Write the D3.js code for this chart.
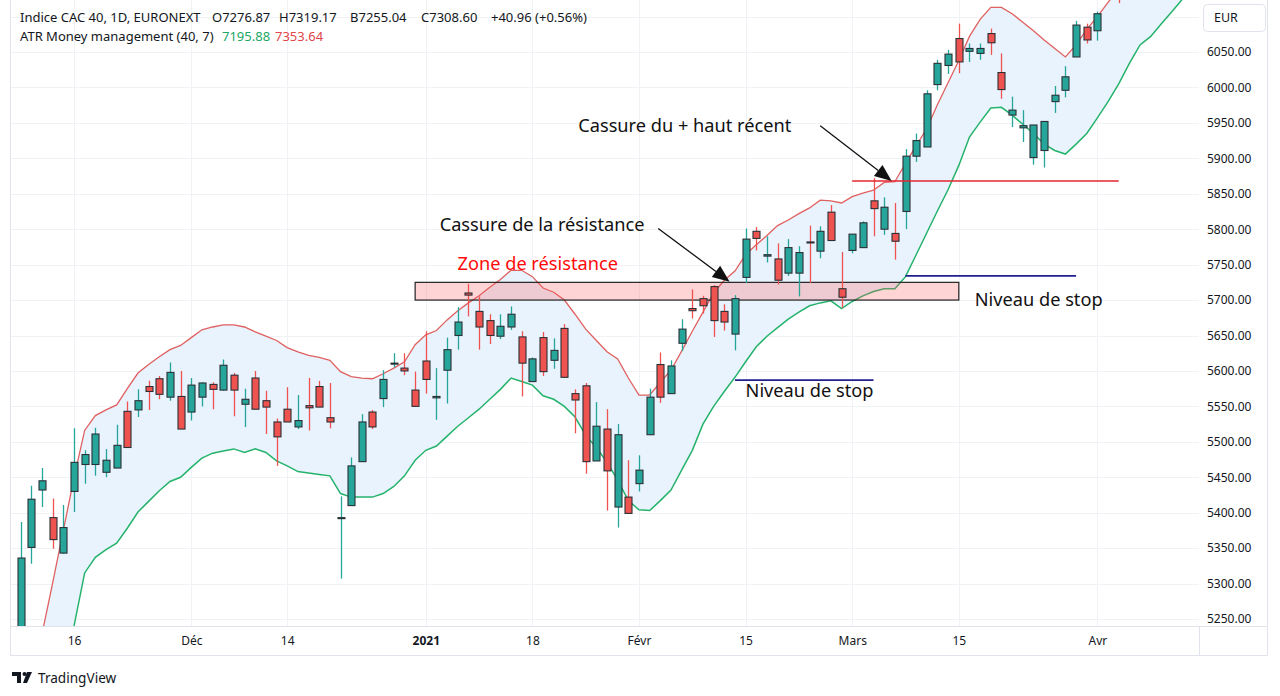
<!DOCTYPE html>
<html><head><meta charset="utf-8">
<script src="https://cdn.jsdelivr.net/npm/d3@7"></script>
<style>
html,body{margin:0;padding:0;background:#fff;}
svg{display:block;}
text{font-family:"Noto Sans","Open Sans",sans-serif;}
</style></head><body>
<svg id="c" width="1280" height="696"></svg>
<script>
// ---------- DATA ----------
const dates = [
 "2020-11-09","2020-11-10","2020-11-11","2020-11-12","2020-11-13","2020-11-16","2020-11-17","2020-11-18","2020-11-19","2020-11-20",
 "2020-11-23","2020-11-24","2020-11-25","2020-11-26","2020-11-27","2020-11-30","2020-12-01","2020-12-02","2020-12-03","2020-12-04",
 "2020-12-07","2020-12-08","2020-12-09","2020-12-10","2020-12-11","2020-12-14","2020-12-15","2020-12-16","2020-12-17","2020-12-18",
 "2020-12-21","2020-12-22","2020-12-23","2020-12-24","2020-12-28","2020-12-29","2020-12-30","2020-12-31","2021-01-04","2021-01-05",
 "2021-01-06","2021-01-07","2021-01-08","2021-01-11","2021-01-12","2021-01-13","2021-01-14","2021-01-15","2021-01-18","2021-01-19",
 "2021-01-20","2021-01-21","2021-01-22","2021-01-25","2021-01-26","2021-01-27","2021-01-28","2021-01-29","2021-02-01","2021-02-02",
 "2021-02-03","2021-02-04","2021-02-05","2021-02-08","2021-02-09","2021-02-10","2021-02-11","2021-02-12","2021-02-15","2021-02-16",
 "2021-02-17","2021-02-18","2021-02-19","2021-02-22","2021-02-23","2021-02-24","2021-02-25","2021-02-26","2021-03-01","2021-03-02",
 "2021-03-03","2021-03-04","2021-03-05","2021-03-08","2021-03-09","2021-03-10","2021-03-11","2021-03-12","2021-03-15","2021-03-16",
 "2021-03-17","2021-03-18","2021-03-19","2021-03-22","2021-03-23","2021-03-24","2021-03-25","2021-03-26","2021-03-29","2021-03-30",
 "2021-03-31","2021-04-01","2021-04-06","2021-04-07"];
const opens = [
 5180,5351,5432,5393,5343,5430,5468,5468,5457,5463,
 5543,5545,5578,5589,5563,5564,5542,5563,5581,5573,
 5594,5553,5590,5558,5528,5546,5521,5551,5578,5534,
 5392,5410,5472,5542,5561,5610,5604,5573,5614,5562,
 5601,5650,5710,5684,5671,5649,5662,5648,5585,5647,
 5615,5660,5568,5579,5473,5518,5408,5422,5441,5510,
 5609,5568,5639,5688,5702,5719,5684,5652,5732,5797,
 5762,5758,5738,5738,5782,5769,5824,5716,5770,5774,
 5840,5800,5794,5825,5903,5916,6004,6031,6069,6051,
 6048,6076,6021,5961,5943,5901,5911,5980,5996,6043,
 6085,6080,6130,6150];
const highs = [
 5387,5438,5463,5420,5411,5519,5488,5520,5490,5524,
 5557,5574,5586,5593,5612,5600,5590,5584,5584,5616,
 5597,5575,5600,5572,5533,5577,5566,5590,5586,5583,
 5423,5478,5539,5545,5601,5625,5625,5599,5656,5604,
 5647,5690,5723,5705,5680,5680,5691,5656,5619,5655,
 5646,5666,5574,5583,5556,5546,5525,5474,5481,5575,
 5626,5615,5673,5715,5706,5721,5694,5707,5801,5803,
 5790,5780,5786,5776,5805,5804,5834,5768,5793,5811,
 5872,5845,5837,5913,5935,5996,6039,6053,6090,6062,
 6062,6083,6048,5987,5968,5947,5952,6002,6030,6094,
 6090,6107,6145,6160];
const lows = [
 5150,5328,5408,5349,5342,5401,5441,5452,5450,5463,
 5492,5535,5545,5560,5558,5518,5530,5550,5546,5572,
 5536,5521,5546,5511,5466,5528,5518,5516,5549,5519,
 5307,5410,5472,5518,5549,5605,5594,5550,5568,5531,
 5554,5630,5677,5630,5638,5645,5658,5564,5585,5593,
 5603,5591,5512,5455,5473,5403,5379,5399,5430,5510,
 5555,5568,5628,5674,5681,5648,5657,5629,5724,5770,
 5753,5722,5734,5705,5724,5759,5784,5689,5766,5774,
 5790,5792,5757,5800,5895,5916,5996,6019,6020,6036,
 6039,6046,5984,5944,5923,5891,5887,5964,5986,6043,
 6062,6066,6126,6119];
const closes = [
 5336,5419,5445,5362,5379,5471,5482,5511,5474,5495,
 5492,5558,5571,5567,5598,5518,5580,5583,5574,5608,
 5573,5560,5546,5549,5507,5528,5530,5548,5549,5528,
 5393,5466,5528,5521,5588,5611,5600,5550,5588,5564,
 5630,5669,5707,5662,5650,5663,5680,5611,5617,5599,
 5629,5591,5559,5472,5522,5459,5510,5399,5460,5563,
 5563,5607,5659,5685,5692,5671,5669,5702,5786,5787,
 5764,5728,5774,5767,5781,5797,5784,5704,5793,5809,
 5829,5831,5783,5903,5925,5991,6034,6047,6036,6055,
 6055,6063,5997,5968,5946,5947,5952,5989,6015,6088,
 6067,6104,6140,6135];
// ATR Money management (40, 7) bands, plotted ahead of price
const upperBand = [
 null,null,5229,5301,5375,5449,5516,5537,5545,5552,
 5575,5597,5609,5620,5630,5636,5647,5658,5662,5665,
 5665,5662,5655,5649,5643,5633,5627,5622,5619,5615,
 5599,5592,5590,5589,5596,5604,5613,5637,5651,5657,
 5672,5685,5696,5706,5718,5729,5742,5742,5733,5717,
 5711,5700,5680,5659,5643,5627,5617,5590,5566,5566,
 5584,5601,5628,5656,5683,5710,5728,5741,5764,5778,
 5791,5805,5813,5822,5830,5841,5840,5837,5846,5851,
 5855,5866,5867,5893,5918,5942,5976,6007,6038,6072,
 6096,6113,6113,6104,6092,6080,6067,6055,6043,6060,
 6082,6100,6120,6140,6160,6180,6200,6220,6240,6260];
const lowerBand = [
 null,null,null,null,null,5240,5315,5337,5348,5357,
 5378,5401,5416,5431,5444,5450,5464,5477,5484,5487,
 5490,5485,5490,5485,5473,5466,5458,5456,5454,5452,
 5427,5422,5422,5422,5427,5437,5452,5474,5488,5494,
 5508,5522,5534,5546,5560,5574,5590,5585,5580,5565,
 5560,5550,5535,5509,5492,5471,5446,5417,5404,5403,
 5417,5432,5460,5488,5525,5550,5571,5591,5613,5634,
 5649,5661,5673,5683,5692,5696,5699,5688,5698,5706,
 5712,5716,5716,5733,5764,5795,5826,5856,5890,5930,
 5951,5971,5972,5961,5948,5935,5920,5911,5906,5920,
 5935,5957,5980,6005,6034,6060,6072,6090,6107,6125];

const priceTicks = [5250,5300,5350,5400,5450,5500,5550,5600,5650,5700,5750,5800,5850,5900,5950,6000,6050];
const gridPrices = [5250,5300,5350,5400,5450,5500,5550,5600,5650,5700,5750,5800,5850,5900,5950,6000,6050,6100];
const timeTickIndex = [5,16,25,38,48,58,68,78,88,101];
const timeTickLabels = ["16","Déc","14","2021","18","Févr","15","Mars","15","Avr"];

const resistanceZone = [5700, 5725];      // price range
const resistanceZoneBars = [37, 88];      // bar span
const recentHigh = 5868; const recentHighBars = [78, 103];
const stopLevels = [5734, 5587];
const stopBars = [[83, 99], [67, 80]];

// ---------- CHART ----------
const svg = d3.select("#c");
const plot = {left:10, right:1199, top:0, bottom:626};
const x = d3.scaleLinear().domain([0, 101]).range([20.7, 1097.4]);
const y = d3.scaleLinear().domain([5250, 6050]).range([619, 52]);

const cGreen = "#26a69a", cRed = "#ef5350", cBorder = "#2b3036";
const upperColor = "#e06060", lowerColor = "#25b36c";

svg.append("defs").append("clipPath").attr("id","clip")
  .append("rect").attr("x",plot.left+0.5).attr("y",plot.top).attr("width",plot.right-plot.left-0.5).attr("height",plot.bottom-plot.top);

// grid
const grid = svg.append("g");
grid.selectAll("line.h").data(gridPrices).join("line")
  .attr("x1",plot.left).attr("x2",plot.right)
  .attr("y1",d=>Math.round(y(d))+0.5).attr("y2",d=>Math.round(y(d))+0.5)
  .attr("stroke","#f0f2f6").attr("stroke-width",1);
grid.selectAll("line.v").data(timeTickIndex).join("line")
  .attr("y1",plot.top).attr("y2",plot.bottom)
  .attr("x1",d=>Math.round(x(d))+0.5).attr("x2",d=>Math.round(x(d))+0.5)
  .attr("stroke","#f0f2f6").attr("stroke-width",1);

const g = svg.append("g").attr("clip-path","url(#clip)");
const idx = d3.range(upperBand.length);

// band fill
g.append("path").datum(idx)
  .attr("d", d3.area().defined(i=>upperBand[i]!=null)
     .x(i=>x(i)).y1(i=>y(upperBand[i]))
     .y0(i=>lowerBand[i]!=null ? y(lowerBand[i]) : plot.bottom+20))
  .attr("fill","#e8f3fd");
g.append("path").datum(idx)
  .attr("d", d3.line().defined(i=>upperBand[i]!=null).x(i=>x(i)).y(i=>y(upperBand[i])))
  .attr("fill","none").attr("stroke",upperColor).attr("stroke-width",1.3);
g.append("path").datum(idx)
  .attr("d", d3.line().defined(i=>lowerBand[i]!=null).x(i=>x(i)).y(i=>y(lowerBand[i])))
  .attr("fill","none").attr("stroke",lowerColor).attr("stroke-width",1.5);

// resistance zone
g.append("rect")
  .attr("x", x(resistanceZoneBars[0])).attr("width", x(resistanceZoneBars[1])-x(resistanceZoneBars[0]))
  .attr("y", y(resistanceZone[1])).attr("height", y(resistanceZone[0])-y(resistanceZone[1]))
  .attr("fill","rgba(255,90,90,0.26)").attr("stroke","#222").attr("stroke-width",1.2);

// candles
const bars = d3.range(opens.length);
const cg = g.append("g");
bars.forEach(i=>{
  const o=opens[i], c=closes[i], up = c>=o;
  const col = up?cGreen:cRed;
  const cx = Math.round(x(i))+0.5;
  cg.append("line").attr("x1",cx).attr("x2",cx).attr("y1",y(highs[i])).attr("y2",y(lows[i]))
    .attr("stroke",col).attr("stroke-width",1.3);
  const yt = y(Math.max(o,c)), yb = y(Math.min(o,c));
  cg.append("rect").attr("x",cx-3.5).attr("width",7)
    .attr("y",yt).attr("height",Math.max(1,yb-yt))
    .attr("fill",col).attr("stroke",cBorder).attr("stroke-width",1.1);
});

// horizontal levels
g.append("line").attr("x1",x(recentHighBars[0])).attr("x2",x(recentHighBars[1]))
  .attr("y1",y(recentHigh)).attr("y2",y(recentHigh)).attr("stroke","#e3262e").attr("stroke-width",1.6);
stopLevels.forEach((v,k)=>{
  g.append("line").attr("x1",x(stopBars[k][0])).attr("x2",x(stopBars[k][1]))
   .attr("y1",y(v)).attr("y2",y(v)).attr("stroke","#1f1f8f").attr("stroke-width",1.8);
});

// arrows (bar index, price)
const arrows = [
  {from:[59.8, 5801], to:[66.5, 5726]},
  {from:[75.0, 5946], to:[81.7, 5868]}
];
arrows.forEach(a=>{
  const x1=x(a.from[0]), y1=y(a.from[1]), x2=x(a.to[0]), y2=y(a.to[1]);
  const ang = Math.atan2(y2-y1, x2-x1), L=17, Wd=7;
  const bx = x2-L*Math.cos(ang), by = y2-L*Math.sin(ang);
  g.append("line").attr("x1",x1).attr("y1",y1).attr("x2",bx).attr("y2",by).attr("stroke","#111").attr("stroke-width",1.3);
  const px = -Math.sin(ang)*Wd, py = Math.cos(ang)*Wd;
  g.append("path").attr("d",`M${x2},${y2}L${bx+px},${by+py}L${bx-px},${by-py}Z`).attr("fill","#111");
});

// annotation texts (bar index, price)
const notes = [
  {t:"Zone de résistance", at:[48.5, 5752], col:"#ff0a0a", anchor:"middle"},
  {t:"Cassure de la résistance", at:[39.3, 5806], col:"#111", anchor:"start"},
  {t:"Cassure du + haut récent", at:[52.3, 5946], col:"#111", anchor:"start"},
  {t:"Niveau de stop", at:[89.5, 5700], col:"#111", anchor:"start"},
  {t:"Niveau de stop", at:[68.0, 5572], col:"#111", anchor:"start"}
];
svg.append("g").selectAll("text").data(notes).join("text")
  .attr("x",d=>x(d.at[0])).attr("y",d=>y(d.at[1])).attr("dy","0.35em")
  .attr("text-anchor",d=>d.anchor).attr("fill",d=>d.col)
  .attr("font-size",18.2).text(d=>d.t);

// frame
const frame = svg.append("g").attr("stroke","#e0e3eb").attr("fill","none");
frame.append("line").attr("x1",10.5).attr("x2",10.5).attr("y1",0).attr("y2",655.5);
frame.append("line").attr("x1",1267.5).attr("x2",1267.5).attr("y1",0).attr("y2",655.5);
frame.append("line").attr("x1",10.5).attr("x2",1267.5).attr("y1",626.5).attr("y2",626.5);
frame.append("line").attr("x1",10.5).attr("x2",1267.5).attr("y1",655.5).attr("y2",655.5);
frame.append("line").attr("x1",1199.5).attr("x2",1199.5).attr("y1",626.5).attr("y2",655.5);

// price axis
const ya = svg.append("g").attr("transform","translate(1203,0)")
  .call(d3.axisRight(y).tickValues(priceTicks).tickFormat(d3.format(".2f")).tickSize(0).tickPadding(4));
ya.select(".domain").remove();
ya.selectAll("text").attr("font-size",12).attr("fill","#131722").attr("font-family","Noto Sans, sans-serif");

// EUR box
svg.append("rect").attr("x",1203.5).attr("y",4.5).attr("width",62).attr("height",27).attr("rx",4)
  .attr("fill","#fff").attr("stroke","#e0e3eb");
svg.append("text").attr("x",1214).attr("y",18).attr("dy","0.35em").attr("font-size",12.5).attr("fill","#131722").text("EUR");

// time axis
const xa = svg.append("g").attr("transform","translate(0,627)")
  .call(d3.axisBottom(x).tickValues(timeTickIndex).tickFormat((d,i)=>timeTickLabels[i]).tickSize(0).tickPadding(9));
xa.select(".domain").remove();
xa.selectAll("text").attr("font-size",12).attr("fill","#131722").attr("font-family","Noto Sans, sans-serif")
  .attr("font-weight",(d,i)=>timeTickLabels[i]==="2021"?"bold":"normal");

// legend
const lg = svg.append("g").attr("font-size",13).attr("fill","#131722");
const l1 = [["Indice CAC 40, 1D, EURONEXT",20],["O7276.87",212],["H7319.17",279],["B7255.04",350],["C7308.60",421],["+40.96 (+0.56%)",491]];
l1.forEach(([t,px])=>lg.append("text").attr("x",px).attr("y",17).attr("dy","0.35em").text(t));
lg.append("text").attr("x",20).attr("y",36).attr("dy","0.35em").text("ATR Money management (40, 7)");
lg.append("text").attr("x",222).attr("y",36).attr("dy","0.35em").attr("fill","#22a865").text("7195.88");
lg.append("text").attr("x",275).attr("y",36).attr("dy","0.35em").attr("fill","#e0454a").text("7353.64");

// TradingView logo
const logo = svg.append("g").attr("fill","#131722");
logo.append("path").attr("d","M12,672h9v11h-4v-7h-5z");
logo.append("circle").attr("cx",24.5).attr("cy",674).attr("r",2);
logo.append("path").attr("d","M27,672h5l-5,11h-4z");
svg.append("text").attr("x",38).attr("y",678).attr("dy","0.35em").attr("font-size",13.6).attr("fill","#131722").text("TradingView");
</script>
</body></html>
